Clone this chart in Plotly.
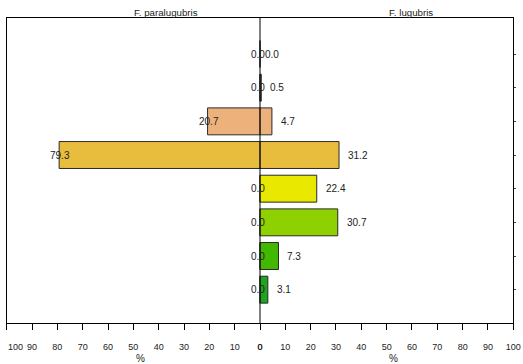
import plotly.graph_objects as go

# Share (%) of each class for the two species, top row first
classes = ["c1", "c2", "c3", "c4", "c5", "c6", "c7", "c8"]
paralugubris = [0.0, 0.0, 20.7, 79.3, 0.0, 0.0, 0.0, 0.0]
lugubris = [0.0, 0.5, 4.7, 31.2, 22.4, 30.7, 7.3, 3.1]
class_colors = ["#8a6a62", "#7a6660", "#edb27c", "#e8bc3c",
                "#e8e800", "#8fd000", "#42b800", "#1ea41e"]
pct_ticks = [0, 10, 20, 30, 40, 50, 60, 70, 80, 90, 100]

W, H = 523, 364
x_left, x_mid, x_right = 6.7, 260.0, 513.3
y_top, y_bot = 18.0, 323.0
FONT = "Liberation Sans, Arial, sans-serif"
TXT = "#222222"

dom_left = [x_left / W, x_mid / W]
dom_right = [x_mid / W, x_right / W]
dom_y = [1 - y_bot / H, 1 - y_top / H]

fig = go.Figure()
bar_line = dict(color="#2a2a2a", width=1)
fig.add_trace(go.Bar(x=paralugubris, y=classes, orientation="h",
                     marker=dict(color=class_colors, line=bar_line),
                     width=0.8, xaxis="x", yaxis="y", showlegend=False))
fig.add_trace(go.Bar(x=lugubris, y=classes, orientation="h",
                     marker=dict(color=class_colors, line=bar_line),
                     width=0.8, xaxis="x2", yaxis="y2", showlegend=False))

annotations = []
for c, v in zip(classes, paralugubris):
    annotations.append(dict(x=v, y=c, xref="x", yref="y", text=f"{v:.1f}",
                            showarrow=False, xanchor="center", yanchor="middle",
                            xshift=1 if v > 0 else -2,
                            font=dict(family=FONT, size=10, color=TXT)))
for c, v in zip(classes, lugubris):
    annotations.append(dict(x=v, y=c, xref="x2", yref="y2", text=f"{v:.1f}",
                            showarrow=False, xanchor="left", yanchor="middle",
                            xshift=7 if v > 0 else 3,
                            font=dict(family=FONT, size=10, color=TXT)))

# panel titles and axis titles
annotations += [
    dict(x=165.5 / W, y=1 - 12.5 / H, xref="paper", yref="paper",
         text="F. paralugubris", showarrow=False, xanchor="center", yanchor="middle",
         font=dict(family=FONT, size=9.7, color=TXT)),
    dict(x=410.5 / W, y=1 - 12.5 / H, xref="paper", yref="paper",
         text="F. lugubris", showarrow=False, xanchor="center", yanchor="middle",
         font=dict(family=FONT, size=9.7, color=TXT)),
    dict(x=140 / W, y=1 - 358 / H, xref="paper", yref="paper",
         text="%", showarrow=False, xanchor="center", yanchor="middle",
         font=dict(family=FONT, size=10, color=TXT)),
    dict(x=393 / W, y=1 - 358 / H, xref="paper", yref="paper",
         text="%", showarrow=False, xanchor="center", yanchor="middle",
         font=dict(family=FONT, size=10, color=TXT)),
    # the outermost left tick label sits just inside the page edge
    dict(x=x_left / W, y=1 - 346.5 / H, xref="paper", yref="paper",
         text=str(pct_ticks[-1]), showarrow=False, xanchor="left", yanchor="middle",
         xshift=-1, font=dict(family=FONT, size=9, color=TXT)),
]

xcommon = dict(tickvals=pct_ticks,
               ticks="outside", ticklen=6, tickcolor="#000", tickwidth=1,
               showline=True, linecolor="#000", linewidth=1, mirror=True,
               showgrid=False, zeroline=False, ticklabelstandoff=9,
               automargin=False,
               tickfont=dict(family=FONT, size=9, color=TXT), fixedrange=True)
ycommon = dict(type="category", categoryarray=classes, range=[7.99, -1.07],
               showgrid=False, zeroline=False, showticklabels=False,
               automargin=False,
               showline=True, linecolor="#000", linewidth=1, domain=dom_y)

left_text = [str(t) for t in pct_ticks[:-1]] + [""]
right_text = [str(t) for t in pct_ticks]

fig.update_layout(
    width=W, height=H,
    margin=dict(l=0, r=0, t=0, b=0),
    paper_bgcolor="white", plot_bgcolor="white",
    bargap=0.2,
    xaxis=dict(domain=dom_left, range=[100, 0], anchor="y",
               ticktext=left_text, **xcommon),
    xaxis2=dict(domain=dom_right, range=[0, 100], anchor="y2",
                ticktext=right_text, **xcommon),
    yaxis=dict(anchor="x", side="left", ticks="", **ycommon),
    yaxis2=dict(anchor="x2", side="right", ticks="outside", ticklen=2,
                tickcolor="#444", **ycommon),
    annotations=annotations,
    shapes=[dict(type="line", xref="paper", yref="paper",
                 x0=x_mid / W, x1=x_mid / W, y0=dom_y[0], y1=dom_y[1],
                 line=dict(color="#000", width=1), layer="above")],
)

fig.write_html("out.html")
